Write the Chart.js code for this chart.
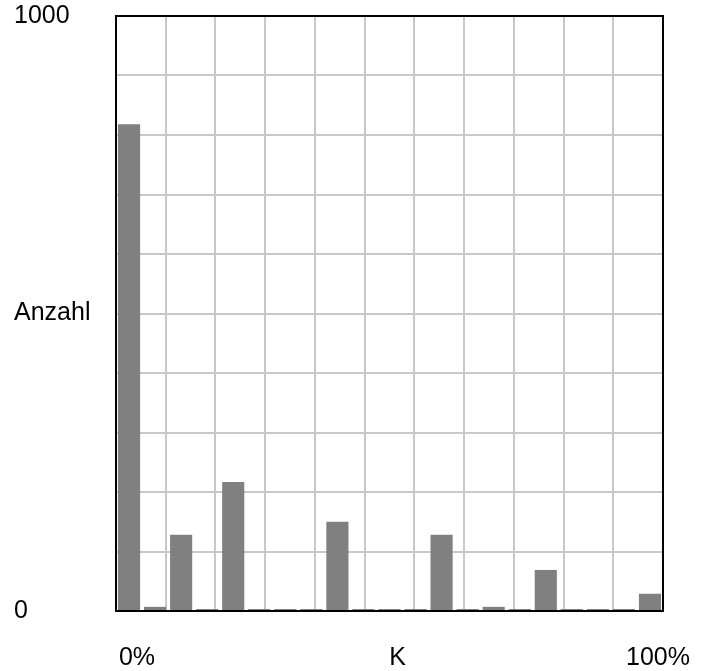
<!DOCTYPE html>
<html lang="en">
<head>
  <meta charset="UTF-8" />
  <title>Anzahl je K</title>
  <script src="https://cdn.jsdelivr.net/npm/chart.js"></script>
  <style>
    body { margin: 0; background: #fff; }
  </style>
</head>
<body>
<canvas id="histChart" width="707" height="671"></canvas>
<script>
  // bins 0% .. 100% in 5% steps
  const bins = ['0%', '5%', '10%', '15%', '20%', '25%', '30%', '35%', '40%', '45%', '50%',
                '55%', '60%', '65%', '70%', '75%', '80%', '85%', '90%', '95%', '100%'];
  const counts = [818, 7, 128, 0, 217, 0, 0, 0, 150, 0, 0, 0, 128, 0, 7, 0, 69, 0, 0, 0, 29];

  // only three labels are printed under the plot
  const xTickIndex = [0, 10, 20];
  const xTickText = ['0%', 'K', '100%'];
  const yTickValue = [0, 500, 1000];
  const yTickText = ['0', 'Anzahl', '1000'];

  const gridColor = '#c8c8c8';
  const font = { family: '"Liberation Sans", Arial, sans-serif', size: 25 };

  // black frame round the plot, drawn under the bars
  const frame = {
    id: 'frame',
    beforeDatasetsDraw(chart) {
      const { ctx, chartArea: a } = chart;
      ctx.save();
      ctx.strokeStyle = '#000';
      ctx.lineWidth = 2;
      ctx.strokeRect(a.left, a.top, a.right - a.left, a.bottom - a.top);
      ctx.restore();
    }
  };

  new Chart(document.getElementById('histChart'), {
    type: 'bar',
    data: {
      labels: bins,
      datasets: [{
        data: counts,
        backgroundColor: '#808080',
        borderWidth: 0,
        barPercentage: 0.85,
        categoryPercentage: 1,
        minBarLength: 2
      }]
    },
    options: {
      responsive: false,
      animation: false,
      events: [],
      layout: { padding: { left: 14, right: 44, top: 16, bottom: 0 } },
      plugins: { legend: { display: false }, tooltip: { enabled: false } },
      scales: {
        x: {
          grid: { display: false, drawTicks: false },
          border: { display: false },
          ticks: {
            autoSkip: false,
            maxRotation: 0,
            padding: 32,
            labelOffset: 8,
            color: '#000',
            font: font,
            callback: (v, i) => {
              const k = xTickIndex.indexOf(i);
              return k >= 0 ? xTickText[k] : '';
            }
          },
          afterFit: s => {
            s.height = 60;
            s.paddingLeft = 0;
            s.paddingRight = 0;
          }
        },
        xg: {
          type: 'linear',
          position: 'top',
          min: 0,
          max: 100,
          grid: { color: gridColor, lineWidth: 2, drawTicks: false },
          border: { display: false },
          ticks: { display: false, stepSize: 10 },
          afterFit: s => { s.height = 0; }
        },
        y: {
          min: 0,
          max: 1000,
          grid: { color: gridColor, lineWidth: 2, drawTicks: false },
          border: { display: false },
          ticks: {
            stepSize: 100,
            autoSkip: false,
            crossAlign: 'far',
            color: '#000',
            font: font,
            callback: v => {
              const k = yTickValue.indexOf(v);
              return k >= 0 ? yTickText[k] : '';
            }
          },
          afterFit: s => {
            s.width = 102;
            s.paddingTop = 0;
            s.paddingBottom = 0;
          }
        }
      }
    },
    plugins: [frame]
  });
</script>
</body>
</html>
